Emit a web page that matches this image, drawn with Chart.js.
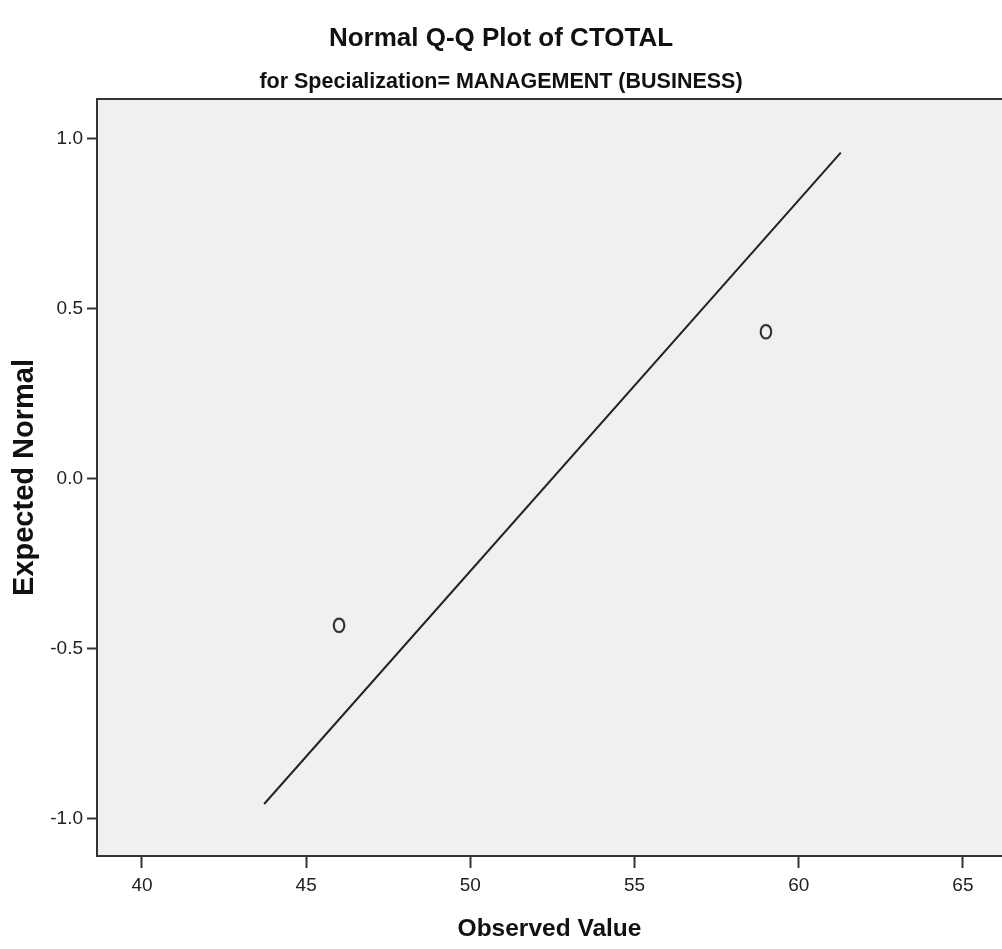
<!DOCTYPE html>
<html>
<head>
<meta charset="utf-8">
<script src="https://cdn.jsdelivr.net/npm/chart.js@4"></script>
<style>
  html, body { margin: 0; padding: 0; background: #fff; }
  #qq { display: block; }
</style>
</head>
<body>
<canvas id="qq" width="1002" height="949"></canvas>
<script>
"use strict";

// observed values vs expected normal
var observed = [46, 59];
var expected = [-0.432, 0.432];

// ends of the reference line
var lineX = [43.72, 61.28];
var lineY = [-0.958, 0.959];

var xTicks = [40, 45, 50, 55, 60, 65];
var yTicks = [-1.0, -0.5, 0.0, 0.5, 1.0];

var FONT = "'Liberation Sans', Arial, sans-serif";

// hollow "o" marker, a bit taller than wide
function makeMarker() {
  var c = document.createElement("canvas");
  c.width = 16;
  c.height = 19;
  var g = c.getContext("2d");
  g.strokeStyle = "#222";
  g.lineWidth = 2;
  g.beginPath();
  g.ellipse(8, 9.5, 5.3, 6.8, 0, 0, Math.PI * 2);
  g.stroke();
  return c;
}

var plotBackground = {
  id: "plotBackground",
  beforeDraw: function(chart) {
    var a = chart.chartArea, ctx = chart.ctx;
    ctx.save();
    ctx.fillStyle = "#f0f0f0";
    ctx.fillRect(a.left, a.top, a.right - a.left, a.bottom - a.top);
    ctx.restore();
  },
  afterDraw: function(chart) {
    var a = chart.chartArea, ctx = chart.ctx;
    ctx.save();
    ctx.strokeStyle = "#333";
    ctx.lineWidth = 2;
    ctx.beginPath();
    ctx.moveTo(a.left - 1, a.top);
    ctx.lineTo(a.right, a.top);
    ctx.stroke();
    ctx.restore();
  }
};

var points = observed.map((x, i) => ({x: x, y: expected[i]}));
var linePts = lineX.map((x, i) => ({x: x, y: lineY[i]}));

var chart = new Chart("qq", {
  type: "scatter",
  data: {
    datasets: [
      {
        label: "line",
        type: "line",
        data: linePts,
        borderColor: "#222",
        borderWidth: 2,
        pointRadius: 0,
        fill: false
      },
      {
        label: "observed",
        data: points,
        pointStyle: makeMarker(),
        pointRadius: 7,
        pointHoverRadius: 7
      }
    ]
  },
  options: {
    responsive: false,
    animation: false,
    layout: { autoPadding: false, padding: 0 },
    plugins: {
      legend: { display: false },
      tooltip: { enabled: false },
      title: {
        display: true,
        text: "Normal Q-Q Plot of CTOTAL",
        color: "#111",
        font: { family: FONT, size: 26, weight: "bold" },
        padding: { top: 23, bottom: 11 }
      },
      subtitle: {
        display: true,
        text: "for Specialization= MANAGEMENT (BUSINESS)",
        color: "#111",
        font: { family: FONT, size: 21.5, weight: "bold" },
        padding: { top: 4, bottom: 4 }
      }
    },
    scales: {
      x: {
        type: "linear",
        min: 38.63,
        max: 66.19,
        afterFit: function(s) {
          s.height = 93;
          s.paddingLeft = 0;
          s.paddingRight = 0;
        },
        afterBuildTicks: function(s) { s.ticks = xTicks.map(v => ({value: v})); },
        ticks: {
          color: "#222",
          padding: 6,
          maxRotation: 0,
          font: { family: FONT, size: 19 }
        },
        grid: { drawOnChartArea: false, drawTicks: true, tickLength: 12, tickColor: "#333", tickWidth: 2 },
        border: { display: true, color: "#333", width: 2 },
        title: {
          display: true,
          text: "Observed Value",
          color: "#111",
          font: { family: FONT, size: 24.5, weight: "bold" },
          padding: { top: 0, bottom: 5 }
        }
      },
      y: {
        type: "linear",
        min: -1.111,
        max: 1.117,
        afterFit: function(s) {
          s.width = 97;
          s.paddingTop = 0;
          s.paddingBottom = 0;
        },
        afterBuildTicks: function(s) { s.ticks = yTicks.map(v => ({value: v})); },
        ticks: {
          color: "#222",
          padding: 4,
          font: { family: FONT, size: 19 },
          callback: function(v) { return v.toFixed(1); }
        },
        grid: { drawOnChartArea: false, drawTicks: true, tickLength: 10, tickColor: "#333", tickWidth: 2 },
        border: { display: true, color: "#333", width: 2 },
        title: {
          display: true,
          text: "Expected Normal",
          color: "#111",
          font: { family: FONT, size: 29, weight: "bold" },
          padding: { top: 8, bottom: 0 }
        }
      }
    }
  },
  plugins: [plotBackground]
});
</script>
</body>
</html>
